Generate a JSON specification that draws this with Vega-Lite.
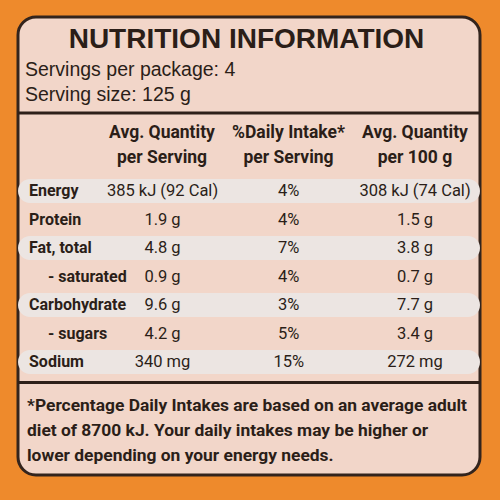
{
  "$schema": "https://vega.github.io/schema/vega-lite/v6.json",
  "width": 462,
  "height": 458,
  "autosize": "none",
  "padding": {"left": 18, "top": 17, "right": 20, "bottom": 25},
  "background": "#ee8a2c",
  "datasets": {
    "nutrition": [
      {"nutrient": "Energy", "level": "main", "perServing": "385 kJ (92 Cal)", "dailyIntake": "4%", "per100g": "308 kJ (74 Cal)"},
      {"nutrient": "Protein", "level": "main", "perServing": "1.9 g", "dailyIntake": "4%", "per100g": "1.5 g"},
      {"nutrient": "Fat, total", "level": "main", "perServing": "4.8 g", "dailyIntake": "7%", "per100g": "3.8 g"},
      {"nutrient": "- saturated", "level": "sub", "perServing": "0.9 g", "dailyIntake": "4%", "per100g": "0.7 g"},
      {"nutrient": "Carbohydrate", "level": "main", "perServing": "9.6 g", "dailyIntake": "3%", "per100g": "7.7 g"},
      {"nutrient": "- sugars", "level": "sub", "perServing": "4.2 g", "dailyIntake": "5%", "per100g": "3.4 g"},
      {"nutrient": "Sodium", "level": "main", "perServing": "340 mg", "dailyIntake": "15%", "per100g": "272 mg"}
    ],
    "headers": [
      {"column": "perServing", "line": 1, "text": "Avg. Quantity"},
      {"column": "perServing", "line": 2, "text": "per Serving"},
      {"column": "dailyIntake", "line": 1, "text": "%Daily Intake*"},
      {"column": "dailyIntake", "line": 2, "text": "per Serving"},
      {"column": "per100g", "line": 1, "text": "Avg. Quantity"},
      {"column": "per100g", "line": 2, "text": "per 100 g"}
    ],
    "lines": [
      {"key": "title", "block": "title", "text": "NUTRITION INFORMATION"},
      {"key": "servings", "block": "info", "text": "Servings per package: 4"},
      {"key": "size", "block": "info", "text": "Serving size: 125 g"},
      {"key": "foot1", "block": "footnote", "text": "*Percentage Daily Intakes are based on an average adult"},
      {"key": "foot2", "block": "footnote", "text": "diet of 8700 kJ. Your daily intakes may be higher or"},
      {"key": "foot3", "block": "footnote", "text": "lower depending on your energy needs."}
    ],
    "dividers": [
      {"divider": "above table"},
      {"divider": "below table"}
    ]
  },
  "layer": [
    {
      "data": {"name": "nutrition"},
      "transform": [
        {"filter": {"field": "nutrient", "oneOf": ["Energy", "Fat, total", "Carbohydrate", "Sodium"]}}
      ],
      "mark": {"type": "rect", "color": "#ece5e2", "cornerRadius": 12},
      "encoding": {
        "y": {
          "field": "nutrient", "type": "nominal", "axis": null,
          "scale": {
            "type": "band",
            "domain": ["Energy", "Protein", "Fat, total", "- saturated", "Carbohydrate", "- sugars", "Sodium"],
            "range": [159.75, 359.25], "paddingInner": 0.15, "paddingOuter": 0.075
          }
        }
      }
    },
    {
      "data": {"name": "dividers"},
      "mark": {"type": "rule", "color": "#2e201a", "strokeWidth": 3},
      "encoding": {
        "y": {
          "field": "divider", "type": "nominal", "axis": null,
          "scale": {"type": "point", "domain": ["above table", "below table"], "range": [96, 365.5], "padding": 0}
        }
      }
    },
    {
      "data": {"name": "nutrition"},
      "mark": {"type": "text", "align": "left", "baseline": "middle", "font": "Roboto", "fontWeight": "bold", "fontSize": 16, "color": "#2b1e18"},
      "encoding": {
        "x": {
          "field": "level", "type": "nominal", "axis": null,
          "scale": {"type": "point", "domain": ["main", "sub"], "range": [11, 30], "padding": 0}
        },
        "y": {
          "field": "nutrient", "type": "nominal", "axis": null,
          "scale": {
            "type": "band",
            "domain": ["Energy", "Protein", "Fat, total", "- saturated", "Carbohydrate", "- sugars", "Sodium"],
            "range": [159.75, 359.25], "paddingInner": 0.15, "paddingOuter": 0.075
          }
        },
        "text": {"field": "nutrient"}
      }
    },
    {
      "data": {"name": "nutrition"},
      "transform": [
        {"fold": ["perServing", "dailyIntake", "per100g"], "as": ["column", "value"]}
      ],
      "mark": {"type": "text", "align": "center", "baseline": "middle", "font": "Roboto", "fontSize": 16.5, "color": "#2b1e18"},
      "encoding": {
        "x": {
          "field": "column", "type": "nominal", "axis": null,
          "scale": {"type": "point", "domain": ["perServing", "dailyIntake", "per100g"], "range": [144.5, 397], "padding": 0}
        },
        "y": {
          "field": "nutrient", "type": "nominal", "axis": null,
          "scale": {
            "type": "band",
            "domain": ["Energy", "Protein", "Fat, total", "- saturated", "Carbohydrate", "- sugars", "Sodium"],
            "range": [159.75, 359.25], "paddingInner": 0.15, "paddingOuter": 0.075
          }
        },
        "text": {"field": "value"}
      }
    },
    {
      "data": {"name": "headers"},
      "mark": {"type": "text", "align": "center", "baseline": "alphabetic", "font": "Roboto", "fontWeight": "bold", "fontSize": 17.5, "color": "#2b1e18"},
      "encoding": {
        "x": {
          "field": "column", "type": "nominal", "axis": null,
          "scale": {"type": "point", "domain": ["perServing", "dailyIntake", "per100g"], "range": [144, 397], "padding": 0}
        },
        "y": {
          "field": "line", "type": "ordinal", "axis": null,
          "scale": {"type": "point", "domain": [1, 2], "range": [121, 146], "padding": 0}
        },
        "text": {"field": "text"}
      }
    },
    {
      "data": {"name": "lines"},
      "transform": [{"filter": "datum.block == 'title'"}],
      "mark": {"type": "text", "align": "center", "baseline": "alphabetic", "font": "Liberation Sans", "fontWeight": "bold", "fontSize": 28, "color": "#2b1e18"},
      "encoding": {
        "x": {
          "field": "block", "type": "nominal", "axis": null,
          "scale": {"type": "point", "domain": ["title"], "range": [228.5, 228.5], "padding": 0}
        },
        "y": {
          "field": "key", "type": "nominal", "axis": null,
          "scale": {"type": "point", "domain": ["title"], "range": [31, 31], "padding": 0}
        },
        "text": {"field": "text"}
      }
    },
    {
      "data": {"name": "lines"},
      "transform": [{"filter": "datum.block == 'info'"}],
      "mark": {"type": "text", "align": "left", "baseline": "alphabetic", "font": "Liberation Sans", "fontSize": 19.5, "color": "#2b1e18"},
      "encoding": {
        "x": {
          "field": "block", "type": "nominal", "axis": null,
          "scale": {"type": "point", "domain": ["info"], "range": [7, 7], "padding": 0}
        },
        "y": {
          "field": "key", "type": "nominal", "axis": null,
          "scale": {"type": "point", "domain": ["servings", "size"], "range": [59, 84], "padding": 0}
        },
        "text": {"field": "text"}
      }
    },
    {
      "data": {"name": "lines"},
      "transform": [{"filter": "datum.block == 'footnote'"}],
      "mark": {"type": "text", "align": "left", "baseline": "alphabetic", "font": "Roboto", "fontWeight": "bold", "fontSize": 17.4, "color": "#2b1e18"},
      "encoding": {
        "x": {
          "field": "block", "type": "nominal", "axis": null,
          "scale": {"type": "point", "domain": ["footnote"], "range": [9, 9], "padding": 0}
        },
        "y": {
          "field": "key", "type": "nominal", "axis": null,
          "scale": {"type": "point", "domain": ["foot1", "foot2", "foot3"], "range": [394, 444], "padding": 0}
        },
        "text": {"field": "text"}
      }
    }
  ],
  "resolve": {"scale": {"x": "independent", "y": "independent"}},
  "config": {
    "view": {"fill": "#f2d6c9", "stroke": "#33241d", "strokeWidth": 3, "cornerRadius": 18}
  }
}
